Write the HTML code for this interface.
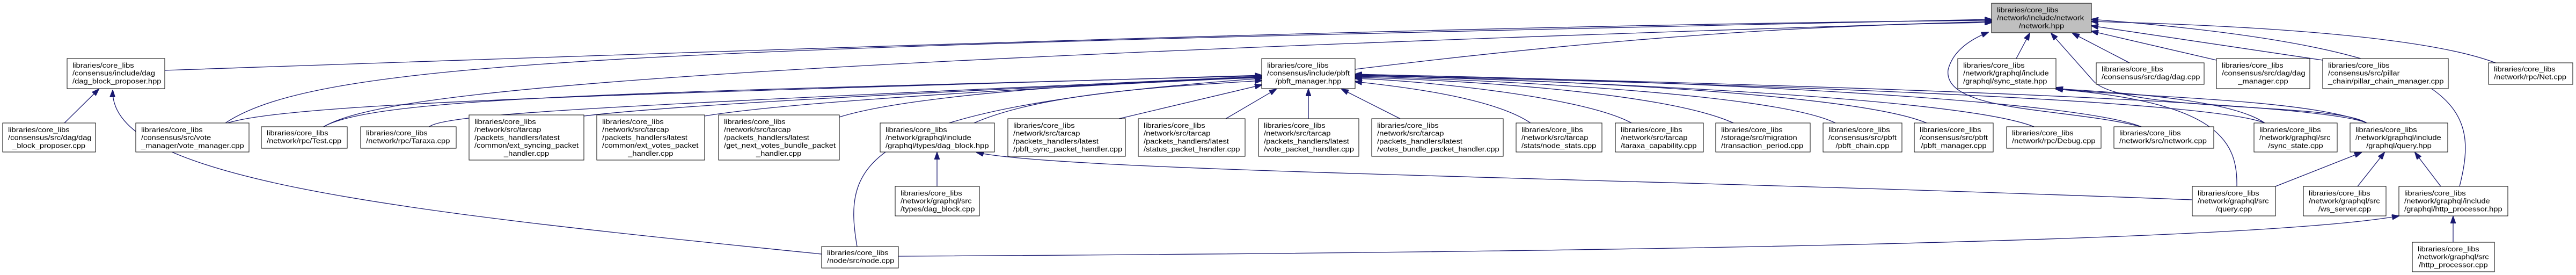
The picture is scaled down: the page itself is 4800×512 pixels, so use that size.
<!DOCTYPE html>
<html><head><meta charset="utf-8"><style>
html,body{margin:0;padding:0;background:#fff;width:4800px;height:512px;overflow:hidden}
svg{display:block}
text{font-family:"Liberation Sans",sans-serif;font-size:12.5px;fill:#000}
.e{fill:none;stroke:#191970;stroke-width:1.3}
rect{fill:#fff;stroke:#000;stroke-width:1}
.sh{stroke:#666;stroke-width:2}
</style></head><body>
<svg width="4800" height="512" viewBox="0 0 4800 512" xmlns="http://www.w3.org/2000/svg">
<defs><marker id="a" markerUnits="userSpaceOnUse" markerWidth="14" markerHeight="10" refX="13" refY="5" orient="auto"><path d="M0,0 L14,5 L0,10 z" fill="#191970" stroke="#191970"/></marker></defs>
<g marker-end="url(#a)">
<path class="e" d="M120,229 L184,166"/>
<path class="e" d="M1531,473 C700,390 205,330 210,168"/>
<path class="e" d="M307,131 C1500,90 2800,45 3711,38"/>
<path class="e" d="M420,229 C600,110 1200,90 3711,36"/>
<path class="e" d="M424,229 C550,190 1200,175 2351,140"/>
<path class="e" d="M603,236 C700,180 1100,120 3711,40"/>
<path class="e" d="M603,236 C700,180 1200,172 2351,141"/>
<path class="e" d="M800,236 C830,210 1200,195 2351,142"/>
<path class="e" d="M1088,216 C1300,190 2000,160 2351,143"/>
<path class="e" d="M1313,216 C1500,185 2100,155 2351,144"/>
<path class="e" d="M1564,218 C1700,175 2100,150 2351,145"/>
<path class="e" d="M1597,459 C1570,300 1600,200 2351,146"/>
<path class="e" d="M1815,229 C1950,170 2200,160 2351,150"/>
<path class="e" d="M2085,221 L2351,158"/>
<path class="e" d="M2284,221 L2378,166"/>
<path class="e" d="M2438,221 L2438,166"/>
<path class="e" d="M2609,221 L2500,166"/>
<path class="e" d="M2852,229 C2780,180 2600,160 2525,152"/>
<path class="e" d="M3040,229 C2950,180 2650,150 2525,146"/>
<path class="e" d="M3230,229 C3100,170 2700,148 2525,144"/>
<path class="e" d="M3420,229 C3300,170 2700,146 2525,142"/>
<path class="e" d="M3590,229 C3450,170 2800,145 2525,141"/>
<path class="e" d="M3790,236 C3650,180 2900,150 2525,140"/>
<path class="e" d="M3990,236 C3850,180 3000,145 2525,139"/>
<path class="e" d="M4410,229 C4300,180 3000,150 2525,138"/>
<path class="e" d="M4220,229 C4100,180 3000,150 2525,140"/>
<path class="e" d="M2525,129 C3000,70 3400,45 3711,42"/>
<path class="e" d="M3757,109 L3782,62"/>
<path class="e" d="M3968,117 L3862,62"/>
<path class="e" d="M4130,112 L3897,58"/>
<path class="e" d="M4328,112 L3897,48"/>
<path class="e" d="M4650,117 C4500,60 4100,45 3897,40"/>
<path class="e" d="M4583,347 C4620,200 4600,90 3897,36"/>
<path class="e" d="M3990,236 C3850,200 3620,210 3630,130 C3640,90 3680,70 3705,60"/>
<path class="e" d="M4410,229 C4350,190 3950,210 3900,150 L3822,62"/>
<path class="e" d="M4410,229 C4300,180 3900,180 3831,163"/>
<path class="e" d="M4220,229 C4150,180 3900,170 3831,165"/>
<path class="e" d="M4168,347 C4170,260 4130,190 3831,166"/>
<path class="e" d="M4240,347 L4400,284"/>
<path class="e" d="M4393,347 L4443,284"/>
<path class="e" d="M4548,347 L4500,284"/>
<path class="e" d="M4571,451 L4571,403"/>
<path class="e" d="M1674,477 C3000,470 4200,450 4470,402"/>
<path class="e" d="M4085,372 C3000,330 2000,320 1820,284"/>
<path class="e" d="M1746,347 L1746,284"/>
</g>

<g transform="translate(125,109)"><rect width="182" height="56"/><g transform="scale(1.18,1)"><text x="8.5" y="17">libraries/core_libs</text><text x="8.5" y="31.7">/consensus/include/dag</text><text x="8.5" y="46.4">/dag_block_proposer.hpp</text></g></g>
<g transform="translate(5,229)"><rect width="173" height="54"/><g transform="scale(1.18,1)"><text x="8.5" y="17">libraries/core_libs</text><text x="8.5" y="31.7">/consensus/src/dag/dag</text><text x="73" y="46.4" text-anchor="middle">_block_proposer.cpp</text></g></g>
<g transform="translate(253,229)"><rect width="211" height="54"/><g transform="scale(1.18,1)"><text x="8.5" y="17">libraries/core_libs</text><text x="8.5" y="31.7">/consensus/src/vote</text><text x="8.5" y="46.4">_manager/vote_manager.cpp</text></g></g>
<g transform="translate(487,236)"><rect width="160" height="40"/><g transform="scale(1.18,1)"><text x="8.5" y="16">libraries/core_libs</text><text x="8.5" y="30.7">/network/rpc/Test.cpp</text></g></g>
<g transform="translate(672,236)"><rect width="178" height="40"/><g transform="scale(1.18,1)"><text x="8.5" y="16">libraries/core_libs</text><text x="8.5" y="30.7">/network/rpc/Taraxa.cpp</text></g></g>
<g transform="translate(874,214)"><rect width="214" height="84"/><g transform="scale(1.18,1)"><text x="8.5" y="17">libraries/core_libs</text><text x="8.5" y="31.7">/network/src/tarcap</text><text x="8.5" y="46.4">/packets_handlers/latest</text><text x="8.5" y="61">/common/ext_syncing_packet</text><text x="90.7" y="75.8" text-anchor="middle">_handler.cpp</text></g></g>
<g transform="translate(1112,214)"><rect width="201" height="84"/><g transform="scale(1.18,1)"><text x="8.5" y="17">libraries/core_libs</text><text x="8.5" y="31.7">/network/src/tarcap</text><text x="8.5" y="46.4">/packets_handlers/latest</text><text x="8.5" y="61">/common/ext_votes_packet</text><text x="85" y="75.8" text-anchor="middle">_handler.cpp</text></g></g>
<g transform="translate(1339,214)"><rect width="225" height="84"/><g transform="scale(1.18,1)"><text x="8.5" y="17">libraries/core_libs</text><text x="8.5" y="31.7">/network/src/tarcap</text><text x="8.5" y="46.4">/packets_handlers/latest</text><text x="8.5" y="61">/get_next_votes_bundle_packet</text><text x="95" y="75.8" text-anchor="middle">_handler.cpp</text></g></g>
<g transform="translate(1640,229)"><rect width="213" height="54"/><g transform="scale(1.18,1)"><text x="8.5" y="17">libraries/core_libs</text><text x="8.5" y="31.7">/network/graphql/include</text><text x="8.5" y="46.4">/graphql/types/dag_block.hpp</text></g></g>
<g transform="translate(1668,347)"><rect width="157" height="55"/><g transform="scale(1.18,1)"><text x="8.5" y="17">libraries/core_libs</text><text x="8.5" y="31.7">/network/graphql/src</text><text x="8.5" y="46.4">/types/dag_block.cpp</text></g></g>
<g transform="translate(1531,459)"><rect width="143" height="40"/><g transform="scale(1.18,1)"><text x="8.5" y="16">libraries/core_libs</text><text x="8.5" y="30.7">/node/src/node.cpp</text></g></g>
<g transform="translate(1878,221)"><rect width="219" height="70"/><g transform="scale(1.18,1)"><text x="8.5" y="17">libraries/core_libs</text><text x="8.5" y="31.7">/network/src/tarcap</text><text x="8.5" y="46.4">/packets_handlers/latest</text><text x="8.5" y="61">/pbft_sync_packet_handler.cpp</text></g></g>
<g transform="translate(2121,221)"><rect width="199" height="70"/><g transform="scale(1.18,1)"><text x="8.5" y="17">libraries/core_libs</text><text x="8.5" y="31.7">/network/src/tarcap</text><text x="8.5" y="46.4">/packets_handlers/latest</text><text x="8.5" y="61">/status_packet_handler.cpp</text></g></g>
<g transform="translate(2345,221)"><rect width="187" height="70"/><g transform="scale(1.18,1)"><text x="8.5" y="17">libraries/core_libs</text><text x="8.5" y="31.7">/network/src/tarcap</text><text x="8.5" y="46.4">/packets_handlers/latest</text><text x="8.5" y="61">/vote_packet_handler.cpp</text></g></g>
<g transform="translate(2351,109)"><rect width="174" height="56"/><g transform="scale(1.18,1)"><text x="8.5" y="17">libraries/core_libs</text><text x="8.5" y="31.7">/consensus/include/pbft</text><text x="73.7" y="46.4" text-anchor="middle">/pbft_manager.hpp</text></g></g>
<g transform="translate(2556,221)"><rect width="245" height="70"/><g transform="scale(1.18,1)"><text x="8.5" y="17">libraries/core_libs</text><text x="8.5" y="31.7">/network/src/tarcap</text><text x="8.5" y="46.4">/packets_handlers/latest</text><text x="8.5" y="61">/votes_bundle_packet_handler.cpp</text></g></g>
<g transform="translate(2825,229)"><rect width="160" height="54"/><g transform="scale(1.18,1)"><text x="8.5" y="17">libraries/core_libs</text><text x="8.5" y="31.7">/network/src/tarcap</text><text x="8.5" y="46.4">/stats/node_stats.cpp</text></g></g>
<g transform="translate(3010,229)"><rect width="164" height="54"/><g transform="scale(1.18,1)"><text x="8.5" y="17">libraries/core_libs</text><text x="8.5" y="31.7">/network/src/tarcap</text><text x="8.5" y="46.4">/taraxa_capability.cpp</text></g></g>
<g transform="translate(3197,229)"><rect width="176" height="54"/><g transform="scale(1.18,1)"><text x="8.5" y="17">libraries/core_libs</text><text x="8.5" y="31.7">/storage/src/migration</text><text x="8.5" y="46.4">/transaction_period.cpp</text></g></g>
<g transform="translate(3397,229)"><rect width="147" height="54"/><g transform="scale(1.18,1)"><text x="8.5" y="17">libraries/core_libs</text><text x="8.5" y="31.7">/consensus/src/pbft</text><text x="62.3" y="46.4" text-anchor="middle">/pbft_chain.cpp</text></g></g>
<g transform="translate(3567,229)"><rect width="147" height="54"/><g transform="scale(1.18,1)"><text x="8.5" y="17">libraries/core_libs</text><text x="8.5" y="31.7">/consensus/src/pbft</text><text x="62.3" y="46.4" text-anchor="middle">/pbft_manager.cpp</text></g></g>
<g transform="translate(3711,6)"><rect width="186" height="55" style="fill:#bfbfbf"/><g transform="scale(1.18,1)"><text x="8.5" y="17">libraries/core_libs</text><text x="8.5" y="31.7">/network/include/network</text><text x="78.8" y="46.4" text-anchor="middle">/network.hpp</text></g></g>
<g transform="translate(3648,109)"><rect width="183" height="56"/><g transform="scale(1.18,1)"><text x="8.5" y="17">libraries/core_libs</text><text x="8.5" y="31.7">/network/graphql/include</text><text x="8.5" y="46.4">/graphql/sync_state.hpp</text></g></g>
<g transform="translate(3906,117)"><rect width="201" height="40"/><g transform="scale(1.18,1)"><text x="8.5" y="16">libraries/core_libs</text><text x="8.5" y="30.7">/consensus/src/dag/dag.cpp</text></g></g>
<g transform="translate(4130,109)"><rect width="174" height="56"/><g transform="scale(1.18,1)"><text x="8.5" y="17">libraries/core_libs</text><text x="8.5" y="31.7">/consensus/src/dag/dag</text><text x="73.7" y="46.4" text-anchor="middle">_manager.cpp</text></g></g>
<g transform="translate(4328,109)"><rect width="234" height="56"/><g transform="scale(1.18,1)"><text x="8.5" y="17">libraries/core_libs</text><text x="8.5" y="31.7">/consensus/src/pillar</text><text x="8.5" y="46.4">_chain/pillar_chain_manager.cpp</text></g></g>
<g transform="translate(4637,117)"><rect width="157" height="40"/><g transform="scale(1.18,1)"><text x="8.5" y="16">libraries/core_libs</text><text x="8.5" y="30.7">/network/rpc/Net.cpp</text></g></g>
<g transform="translate(3739,236)"><rect width="176" height="40"/><g transform="scale(1.18,1)"><text x="8.5" y="16">libraries/core_libs</text><text x="8.5" y="30.7">/network/rpc/Debug.cpp</text></g></g>
<g transform="translate(3939,236)"><rect width="186" height="40"/><g transform="scale(1.18,1)"><text x="8.5" y="16">libraries/core_libs</text><text x="8.5" y="30.7">/network/src/network.cpp</text></g></g>
<g transform="translate(4200,229)"><rect width="155" height="54"/><g transform="scale(1.18,1)"><text x="8.5" y="17">libraries/core_libs</text><text x="8.5" y="31.7">/network/graphql/src</text><text x="65.7" y="46.4" text-anchor="middle">/sync_state.cpp</text></g></g>
<g transform="translate(4379,229)"><rect width="182" height="54"/><g transform="scale(1.18,1)"><text x="8.5" y="17">libraries/core_libs</text><text x="8.5" y="31.7">/network/graphql/include</text><text x="77.1" y="46.4" text-anchor="middle">/graphql/query.hpp</text></g></g>
<g transform="translate(4085,347)"><rect width="155" height="55"/><g transform="scale(1.18,1)"><text x="8.5" y="17">libraries/core_libs</text><text x="8.5" y="31.7">/network/graphql/src</text><text x="65.7" y="46.4" text-anchor="middle">/query.cpp</text></g></g>
<g transform="translate(4292,347)"><rect width="154" height="55"/><g transform="scale(1.18,1)"><text x="8.5" y="17">libraries/core_libs</text><text x="8.5" y="31.7">/network/graphql/src</text><text x="65.3" y="46.4" text-anchor="middle">/ws_server.cpp</text></g></g>
<g transform="translate(4470,347)"><rect width="203" height="55"/><g transform="scale(1.18,1)"><text x="8.5" y="17">libraries/core_libs</text><text x="8.5" y="31.7">/network/graphql/include</text><text x="8.5" y="46.4">/graphql/http_processor.hpp</text></g></g>
<g transform="translate(4495,451)"><rect width="153" height="55"/><g transform="scale(1.18,1)"><text x="8.5" y="17">libraries/core_libs</text><text x="8.5" y="31.7">/network/graphql/src</text><text x="64.8" y="46.4" text-anchor="middle">/http_processor.cpp</text></g></g>
</svg>
</body></html>
